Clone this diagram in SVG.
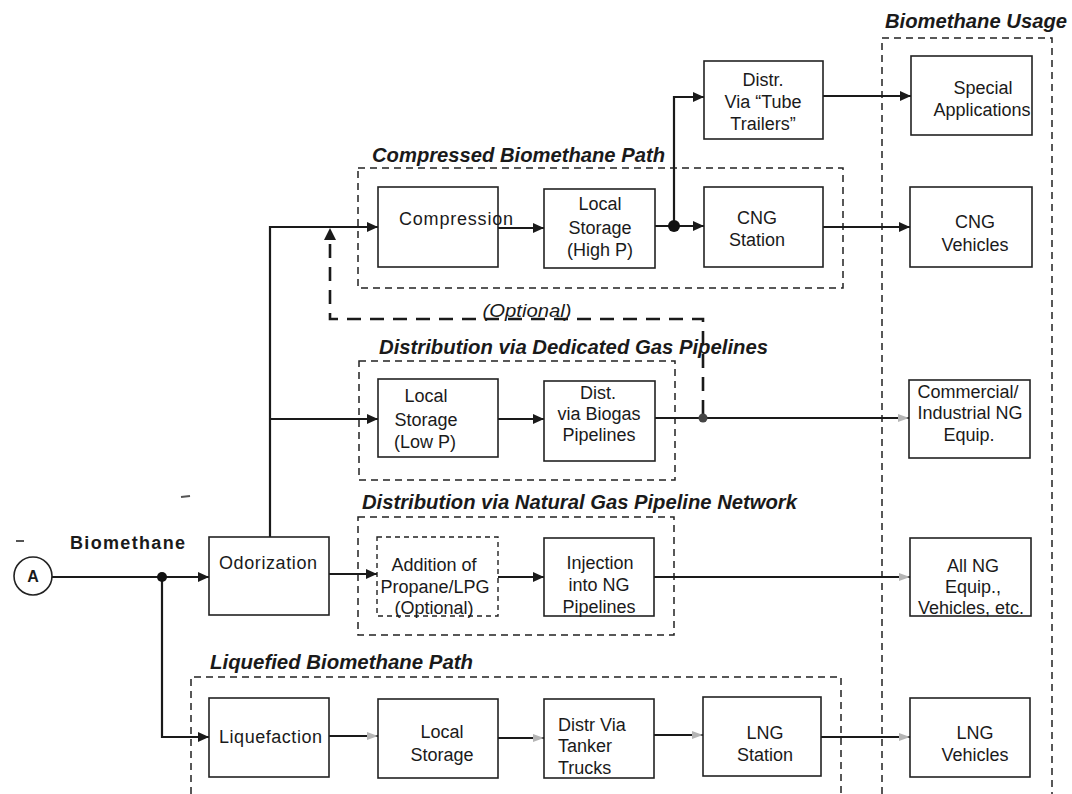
<svg xmlns="http://www.w3.org/2000/svg" width="1072" height="794" viewBox="0 0 1072 794">
  <style>
    .box { fill: #fff; stroke: #222; stroke-width: 1.6; }
    .dbox { fill: #fff; stroke: #222; stroke-width: 1.4; stroke-dasharray: 5 4; }
    .grp { fill: none; stroke: #222; stroke-width: 1.5; stroke-dasharray: 7 5; }
    .lbl { font-family: "Liberation Sans", Arial, sans-serif; font-size: 18px; fill: #1a1a1a; text-anchor: middle; }
    .lbl-l { font-family: "Liberation Sans", Arial, sans-serif; font-size: 18px; fill: #1a1a1a; }
    .title { font-family: "Liberation Sans", Arial, sans-serif; font-size: 20px; font-weight: bold; font-style: italic; fill: #1a1a1a; }
    .wire { fill: none; stroke: #1a1a1a; stroke-width: 2.2; }
    .opt { fill: none; stroke: #1a1a1a; stroke-width: 2.6; stroke-dasharray: 14 9; }
  </style>
  <defs>
    <marker id="arrow" markerUnits="userSpaceOnUse" markerWidth="12" markerHeight="12" refX="11" refY="5" orient="auto">
      <path d="M0,0 L11,5 L0,10 z" fill="#1a1a1a"/>
    </marker>
    <marker id="arrow-faint" markerUnits="userSpaceOnUse" markerWidth="12" markerHeight="12" refX="11" refY="4" orient="auto">
      <path d="M0,0 L11,4 L0,8 z" fill="#b5b5b5"/>
    </marker>
  </defs>

  <rect width="1072" height="794" fill="#fff"/>

  <!-- grouping frames -->
  <g id="groups">
    <g id="grp-usage">
      <path class="grp" d="M882,794 V38 H1052 V794"/>
      <text class="title" x="885" y="28" textLength="182" lengthAdjust="spacingAndGlyphs">Biomethane Usage</text>
    </g>
    <g id="grp-compressed">
      <rect class="grp" x="358" y="168" width="485" height="120"/>
      <text class="title" x="372" y="162" textLength="293" lengthAdjust="spacingAndGlyphs">Compressed Biomethane Path</text>
    </g>
    <g id="grp-dedicated">
      <rect class="grp" x="359" y="361" width="316" height="119"/>
      <text class="title" x="379" y="354" textLength="389" lengthAdjust="spacingAndGlyphs">Distribution via Dedicated Gas Pipelines</text>
    </g>
    <g id="grp-network">
      <rect class="grp" x="358" y="517" width="316" height="118"/>
      <text class="title" x="362" y="509" textLength="435" lengthAdjust="spacingAndGlyphs">Distribution via Natural Gas Pipeline Network</text>
    </g>
    <g id="grp-liquefied">
      <path class="grp" d="M191,794 V677 H841 V794"/>
      <text class="title" x="210" y="669" textLength="263" lengthAdjust="spacingAndGlyphs">Liquefied Biomethane Path</text>
    </g>
  </g>

  <!-- connectors -->
  <g id="connectors">
    <path class="wire" d="M52,577 H209" marker-end="url(#arrow)"/>
    <path class="wire" d="M162,577 V737 H209" marker-end="url(#arrow)"/>
    <path class="wire" d="M270,537 V227 H378" marker-end="url(#arrow)"/>
    <path class="wire" d="M270,419 H378" marker-end="url(#arrow)"/>
    <path class="wire" d="M329,574 H377" marker-end="url(#arrow)"/>
    <path class="wire" d="M498,228 H544" marker-end="url(#arrow)"/>
    <path class="wire" d="M655,226 H704" marker-end="url(#arrow)"/>
    <path class="wire" d="M674,226 V97 H704" marker-end="url(#arrow)"/>
    <path class="wire" d="M823,96 H911" marker-end="url(#arrow)"/>
    <path class="wire" d="M823,227 H910" marker-end="url(#arrow)"/>
    <path class="wire" d="M498,419 H544" marker-end="url(#arrow)"/>
    <path class="wire" d="M655,418 H909" marker-end="url(#arrow-faint)"/>
    <path class="wire" d="M498,577 H544" marker-end="url(#arrow)"/>
    <path class="wire" d="M654,577 H910" marker-end="url(#arrow-faint)"/>
    <path class="wire" d="M329,736 H378" marker-end="url(#arrow-faint)"/>
    <path class="wire" d="M498,738 H544" marker-end="url(#arrow-faint)"/>
    <path class="wire" d="M654,735 H703" marker-end="url(#arrow-faint)"/>
    <path class="wire" d="M821,737 H910" marker-end="url(#arrow-faint)"/>
    <!-- optional return from the dedicated pipeline to the compressor inlet -->
    <path class="opt" d="M703,414 V319 H330 V240"/>
    <path d="M324,240 L330,228 L336,240 z" fill="#1a1a1a"/>
    <circle cx="703" cy="418" r="4.5" fill="#444"/>
    <circle cx="162" cy="577" r="5" fill="#111"/>
    <circle cx="674" cy="226" r="6" fill="#111"/>
    <text class="lbl" x="527" y="317" font-style="italic" textLength="89" lengthAdjust="spacingAndGlyphs">(Optional)</text>
  </g>

  <!-- stray marks -->
  <g id="marks" stroke="#555" stroke-width="2">
    <line x1="16" y1="541" x2="24" y2="541"/>
    <line x1="181" y1="497" x2="190" y2="496"/>
  </g>

  <!-- source -->
  <g id="node-a">
    <circle cx="33" cy="576" r="19" fill="#fff" stroke="#222" stroke-width="1.6"/>
    <text x="33" y="582" font-family="Liberation Sans, Arial, sans-serif" font-size="16" font-weight="bold" text-anchor="middle" fill="#1a1a1a">A</text>
    <text x="70" y="549" font-family="Liberation Sans, Arial, sans-serif" font-size="18" font-weight="bold" fill="#1a1a1a" textLength="115" lengthAdjust="spacing">Biomethane</text>
  </g>

  <g id="node-odorization">
    <rect class="box" x="209" y="537" width="120" height="78"/>
    <text class="lbl-l" x="219" y="569" textLength="98" lengthAdjust="spacing">Odorization</text>
  </g>

  <g id="node-compression">
    <rect class="box" x="378" y="187" width="120" height="80"/>
    <text class="lbl-l" x="399" y="225" textLength="114" lengthAdjust="spacing">Compression</text>
  </g>

  <g id="node-storage-high">
    <rect class="box" x="544" y="189" width="111" height="79"/>
    <text class="lbl" x="600" y="210">Local</text>
    <text class="lbl" x="600" y="234">Storage</text>
    <text class="lbl" x="600" y="256">(High P)</text>
  </g>

  <g id="node-tube-trailers">
    <rect class="box" x="704" y="61" width="119" height="78"/>
    <text class="lbl" x="763" y="86">Distr.</text>
    <text class="lbl" x="763" y="108">Via “Tube</text>
    <text class="lbl" x="763" y="130">Trailers”</text>
  </g>

  <g id="node-cng-station">
    <rect class="box" x="704" y="187" width="119" height="80"/>
    <text class="lbl" x="757" y="224">CNG</text>
    <text class="lbl" x="757" y="246">Station</text>
  </g>

  <g id="node-special">
    <rect class="box" x="911" y="56" width="121" height="79"/>
    <text class="lbl" x="983" y="94">Special</text>
    <text class="lbl" x="982" y="116">Applications</text>
  </g>

  <g id="node-cng-vehicles">
    <rect class="box" x="910" y="187" width="122" height="80"/>
    <text class="lbl" x="975" y="228">CNG</text>
    <text class="lbl" x="975" y="251">Vehicles</text>
  </g>

  <g id="node-storage-low">
    <rect class="box" x="378" y="379" width="120" height="78"/>
    <text class="lbl" x="426" y="402">Local</text>
    <text class="lbl" x="426" y="426">Storage</text>
    <text class="lbl" x="425" y="448">(Low P)</text>
  </g>

  <g id="node-biogas-pipelines">
    <rect class="box" x="544" y="381" width="111" height="80"/>
    <text class="lbl" x="598" y="399">Dist.</text>
    <text class="lbl" x="599" y="420">via Biogas</text>
    <text class="lbl" x="599" y="441">Pipelines</text>
  </g>

  <g id="node-commercial">
    <rect class="box" x="909" y="380" width="121" height="78"/>
    <text class="lbl" x="968" y="398">Commercial/</text>
    <text class="lbl" x="970" y="419">Industrial NG</text>
    <text class="lbl" x="969" y="441">Equip.</text>
  </g>

  <g id="node-propane">
    <rect class="dbox" x="377" y="537" width="121" height="79"/>
    <text class="lbl" x="434" y="571">Addition of</text>
    <text class="lbl" x="435" y="593">Propane/LPG</text>
    <text class="lbl" x="434" y="614">(Optional)</text>
  </g>

  <g id="node-injection">
    <rect class="box" x="544" y="538" width="110" height="78"/>
    <text class="lbl" x="600" y="569">Injection</text>
    <text class="lbl" x="599" y="591">into NG</text>
    <text class="lbl" x="599" y="613">Pipelines</text>
  </g>

  <g id="node-all-ng">
    <rect class="box" x="910" y="538" width="121" height="78"/>
    <text class="lbl" x="973" y="572">All NG</text>
    <text class="lbl" x="973" y="593">Equip.,</text>
    <text class="lbl" x="971" y="614">Vehicles, etc.</text>
  </g>

  <g id="node-liquefaction">
    <rect class="box" x="209" y="698" width="120" height="79"/>
    <text class="lbl-l" x="219" y="743" textLength="103" lengthAdjust="spacing">Liquefaction</text>
  </g>

  <g id="node-storage-lng">
    <rect class="box" x="378" y="699" width="120" height="79"/>
    <text class="lbl" x="442" y="738" fill="#777">Local</text>
    <text class="lbl" x="442" y="761" fill="#3a3a3a">Storage</text>
  </g>

  <g id="node-tanker">
    <rect class="box" x="544" y="699" width="110" height="79"/>
    <text class="lbl-l" x="558" y="731">Distr Via</text>
    <text class="lbl-l" x="558" y="752">Tanker</text>
    <text class="lbl-l" x="558" y="774">Trucks</text>
  </g>

  <g id="node-lng-station">
    <rect class="box" x="703" y="697" width="118" height="79"/>
    <text class="lbl" x="765" y="739">LNG</text>
    <text class="lbl" x="765" y="761">Station</text>
  </g>

  <g id="node-lng-vehicles">
    <rect class="box" x="910" y="698" width="120" height="79"/>
    <text class="lbl" x="975" y="739">LNG</text>
    <text class="lbl" x="975" y="761">Vehicles</text>
  </g>
</svg>
